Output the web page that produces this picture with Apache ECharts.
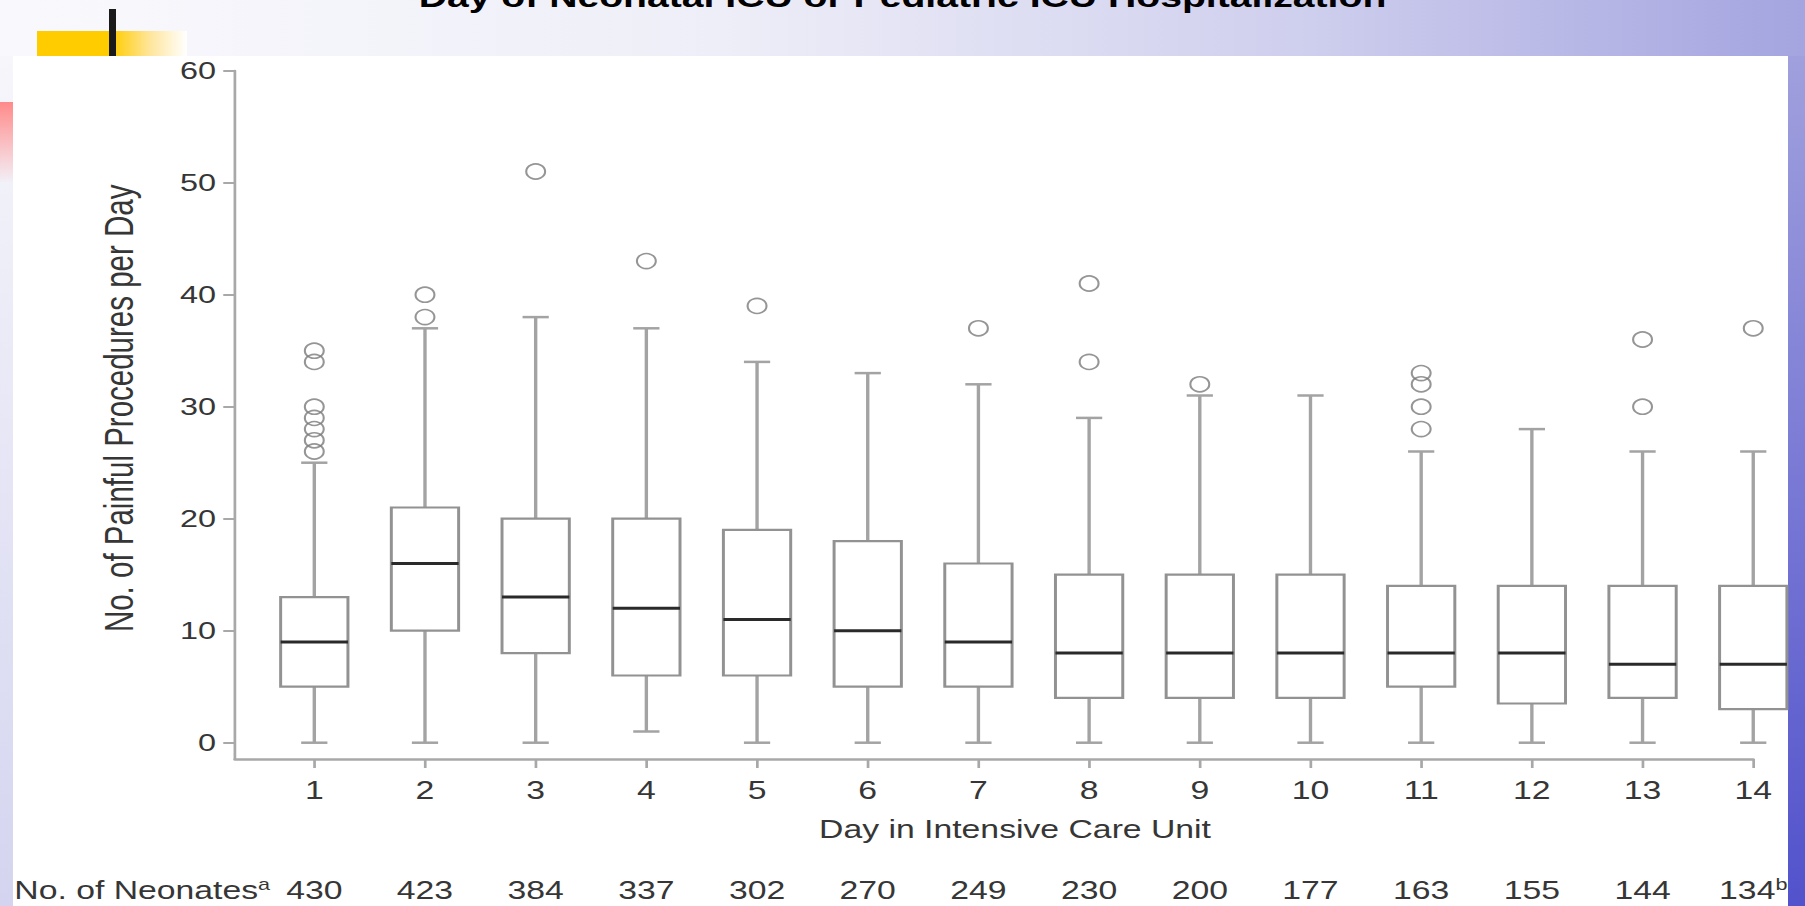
<!DOCTYPE html>
<html>
<head>
<meta charset="utf-8">
<script src="https://cdn.jsdelivr.net/npm/echarts@6/dist/echarts.min.js"></script>
<style>
html,body{margin:0;padding:0;width:1805px;height:906px;overflow:hidden;background:#f4f4fa;}
#topband{position:absolute;left:0;top:0;width:1805px;height:56px;background:linear-gradient(to right,#f9f9fd 0%,#eeeef8 40%,#cfcfee 72%,#a4a4e0 100%);}
#leftstrip{position:absolute;left:0;top:56px;width:13px;height:850px;background:linear-gradient(to bottom,#f6f6fb,#d4d4f0);}
#redmark{position:absolute;left:0;top:102px;width:13px;height:80px;background:linear-gradient(to bottom,#ff8a8a,rgba(255,220,220,0.1));}
#rightstrip{position:absolute;left:1788px;top:56px;width:17px;height:850px;background:linear-gradient(to bottom,#a0a0de,#5252cc);}
#panel{position:absolute;left:13px;top:56px;width:1775px;height:850px;background:#fff;}
#yellow{position:absolute;left:37px;top:31px;width:150px;height:25px;background:linear-gradient(to right,#ffcc00 0%,#ffcc00 50%,#ffe59a 75%,#ffffff 100%);}
#blackbar{position:absolute;left:109px;top:9px;width:7px;height:47px;background:#1a1a1a;}
#chart{position:absolute;left:0;top:0;width:1337px;height:906px;transform:scaleX(1.35);transform-origin:0 0;}
</style>
</head>
<body>
<div id="topband"></div>
<div id="leftstrip"></div>
<div id="redmark"></div>
<div id="rightstrip"></div>
<div id="panel"></div>
<div id="yellow"></div>
<div id="blackbar"></div>
<div id="chart"></div>
<script>
// ---- data ----
const days = [1, 2, 3, 4, 5, 6, 7, 8, 9, 10, 11, 12, 13, 14];
const whiskerLow  = [0, 0, 0, 1, 0, 0, 0, 0, 0, 0, 0, 0, 0, 0];
const q1          = [5, 10, 8, 6, 6, 5, 5, 4, 4, 4, 5, 3.5, 4, 3];
const medians     = [9, 16, 13, 12, 11, 10, 9, 8, 8, 8, 8, 8, 7, 7];
const q3          = [13, 21, 20, 20, 19, 18, 16, 15, 15, 15, 14, 14, 14, 14];
const whiskerHigh = [25, 37, 38, 37, 34, 33, 32, 29, 31, 31, 26, 28, 26, 26];
const outliers = [
  [26, 27, 28, 29, 30, 34, 35],
  [38, 40],
  [51],
  [43],
  [39],
  [],
  [37],
  [34, 41],
  [32],
  [],
  [28, 30, 32, 33],
  [],
  [30, 36],
  [37]
];
const neonates = [430, 423, 384, 337, 302, 270, 249, 230, 200, 177, 163, 155, 144, 134];
const yTicks = [0, 10, 20, 30, 40, 50, 60];

const titleText = 'Day of Neonatal ICU or Pediatric ICU Hospitalization';
const yName = 'No. of Painful Procedures per Day';
const xName = 'Day in Intensive Care Unit';
const rowName = 'No. of Neonates';

// ---- styling ----
const FONT = '"Liberation Sans", Arial, Helvetica, sans-serif';
const TXT = '#363636';
const AXIS = '#a8a8a8';
const BOX_W = 0.608;
const CAP_W = 0.237;

const boxData = days.map((d, i) => [d, whiskerLow[i], q1[i], medians[i], q3[i], whiskerHigh[i]]);
const outlierData = [];
outliers.forEach((arr, i) => arr.forEach(v => outlierData.push([days[i], v])));

const chart = echarts.init(document.getElementById('chart'), null, {renderer: 'svg'});

const option = {
  animation: false,
  textStyle: {fontFamily: FONT},
  title: {
    text: titleText,
    left: 'center',
    top: -18,
    padding: 0,
    textStyle: {fontSize: 29, fontWeight: 'bold', color: '#000', fontFamily: FONT}
  },
  grid: {left: 174.07, right: 38.3, top: 70.7, bottom: 147, containLabel: false, outerBoundsMode: 'none'},
  xAxis: [
    {
      type: 'value', min: 0.2836, max: 14,
      axisLine: {show: true, onZero: false, lineStyle: {color: AXIS, width: 2.5}},
      axisTick: {show: true, customValues: days, length: 9, lineStyle: {color: AXIS, width: 2}},
      axisLabel: {customValues: days, margin: 19, fontSize: 25, color: TXT, fontFamily: FONT},
      splitLine: {show: false},
      name: xName, nameLocation: 'middle', nameGap: 58, nameMoveOverlap: false,
      nameTextStyle: {fontSize: 25, color: TXT, fontFamily: FONT, padding: [0, 0, 0, 31]}
    },
    {
      type: 'value', min: 0.2836, max: 14, position: 'bottom', offset: 131,
      axisLine: {show: false, onZero: false}, axisTick: {show: false}, splitLine: {show: false},
      axisLabel: {
        customValues: days, margin: 0, verticalAlign: 'middle',
        formatter: function (v) {
          const i = days.indexOf(v);
          return i === days.length - 1 ? '{v|' + neonates[i] + '}{s|b}' : '{v|' + neonates[i] + '}';
        },
        rich: {
          v: {fontSize: 25, lineHeight: 26, color: TXT, fontFamily: FONT},
          s: {fontSize: 16, lineHeight: 16, color: TXT, fontFamily: FONT, verticalAlign: 'top'}
        }
      },
      name: '{n|' + rowName + '}{s|a}', nameLocation: 'start', nameGap: -26, nameMoveOverlap: false,
      nameTextStyle: {
        rich: {
          n: {fontSize: 25, lineHeight: 26, color: TXT, fontFamily: FONT},
          s: {fontSize: 16, lineHeight: 16, color: TXT, fontFamily: FONT, verticalAlign: 'top'}
        }
      }
    }
  ],
  yAxis: {
    type: 'value', min: -1.455, max: 60,
    axisLine: {show: true, onZero: false, lineStyle: {color: AXIS, width: 2}},
    axisTick: {show: true, customValues: yTicks, length: 8.7, lineStyle: {color: AXIS, width: 2}},
    axisLabel: {customValues: yTicks, margin: 14, fontSize: 24, color: TXT, fontFamily: FONT},
    splitLine: {show: false},
    name: yName, nameLocation: 'middle', nameGap: 71, nameMoveOverlap: false,
    nameTextStyle: {fontSize: 29.5, color: TXT, fontFamily: FONT, padding: [0, 0, 0, 13]}
  },
  series: [
    {
      type: 'custom',
      xAxisIndex: 0, yAxisIndex: 0,
      data: boxData,
      encode: {x: 0, y: [1, 2, 3, 4, 5]},
      silent: true,
      renderItem: function (params, api) {
        const x = api.value(0);
        const pLow = api.coord([x, api.value(1)]);
        const pQ1 = api.coord([x, api.value(2)]);
        const pMed = api.coord([x, api.value(3)]);
        const pQ3 = api.coord([x, api.value(4)]);
        const pHigh = api.coord([x, api.value(5)]);
        const bw = api.size([BOX_W, 0], [x, 0])[0];
        const cw = api.size([CAP_W, 0], [x, 0])[0];
        const cx = pMed[0];
        const wStyle = {stroke: '#a3a3a3', lineWidth: 2.5, fill: null};
        return {
          type: 'group',
          children: [
            {type: 'line', shape: {x1: cx, y1: pQ3[1], x2: cx, y2: pHigh[1]}, style: wStyle},
            {type: 'line', shape: {x1: cx, y1: pQ1[1], x2: cx, y2: pLow[1]}, style: wStyle},
            {type: 'line', shape: {x1: cx - cw / 2, y1: pHigh[1], x2: cx + cw / 2, y2: pHigh[1]}, style: wStyle},
            {type: 'line', shape: {x1: cx - cw / 2, y1: pLow[1], x2: cx + cw / 2, y2: pLow[1]}, style: wStyle},
            {type: 'rect', shape: {x: cx - bw / 2, y: pQ3[1], width: bw, height: pQ1[1] - pQ3[1]},
              style: {fill: '#ffffff', stroke: '#929292', lineWidth: 2.2}},
            {type: 'line', shape: {x1: cx - bw / 2, y1: pMed[1], x2: cx + bw / 2, y2: pMed[1]},
              style: {stroke: '#2a2a2a', lineWidth: 3}}
          ]
        };
      }
    },
    {
      type: 'scatter',
      xAxisIndex: 0, yAxisIndex: 0,
      data: outlierData,
      symbol: 'circle',
      symbolSize: [14, 15],
      silent: true,
      itemStyle: {color: 'rgba(0,0,0,0)', borderColor: '#7a7a7a', borderWidth: 1.6}
    }
  ]
};
chart.setOption(option);
</script>
</body>
</html>
